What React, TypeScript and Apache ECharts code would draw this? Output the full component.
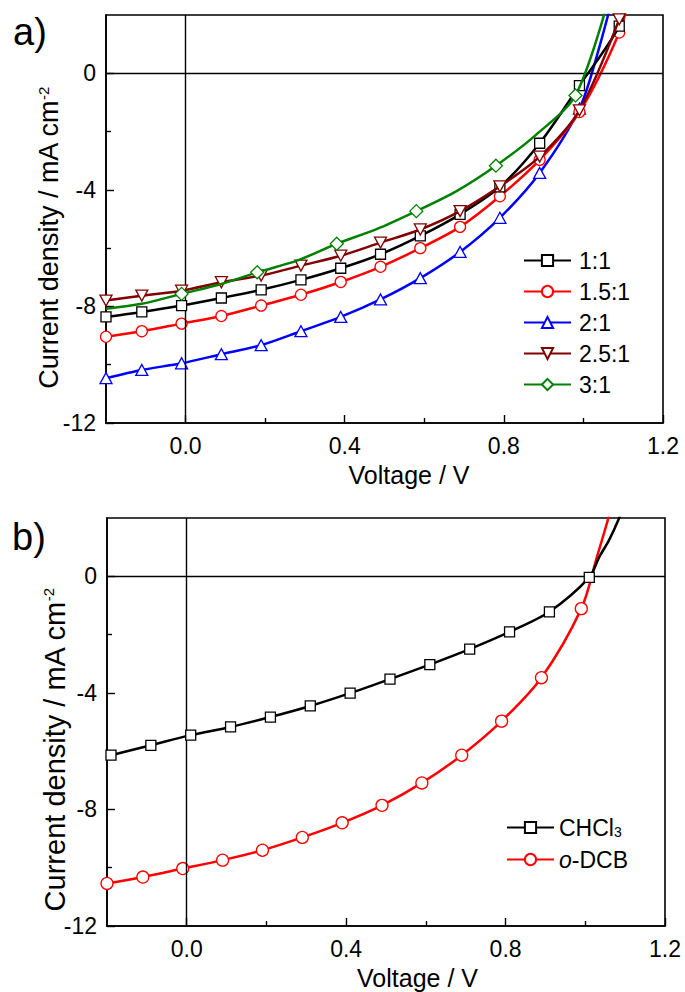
import React, { useEffect, useRef } from "react";
import * as echarts from "echarts";

const FONT = '"Liberation Sans", Arial, Helvetica, sans-serif';

// ---------- Panel a data (marker points) ----------
const aMarkX = [-0.2, -0.11, -0.01, 0.09, 0.19, 0.29, 0.39, 0.49, 0.59, 0.69, 0.79, 0.89, 0.99, 1.09];
const j11 = [-8.36, -8.19, -7.97, -7.71, -7.43, -7.09, -6.69, -6.21, -5.58, -4.84, -3.9, -2.4, -0.42, 1.62];
const j15 = [-9.04, -8.85, -8.59, -8.33, -7.97, -7.6, -7.16, -6.64, -6.0, -5.27, -4.22, -2.97, -1.33, 1.4];
const j2 = [-10.46, -10.18, -9.95, -9.64, -9.33, -8.85, -8.36, -7.76, -7.03, -6.13, -4.96, -3.42, -1.21, 3.5];
const j25 = [-7.8, -7.63, -7.46, -7.17, -6.94, -6.6, -6.26, -5.81, -5.36, -4.73, -3.88, -2.86, -1.27, 1.85];
// curve-only points (no marker) read from the curves beyond/between markers
const t11X = [1.12];
const t11Y = [3.0];
const t15X = [1.12];
const t15Y = [2.9];
const t2X = [1.04];
const t2Y = [0.9];
const t25X = [1.11];
const t25Y = [3.0];
const g3MarkX = [-0.01, 0.18, 0.38, 0.58, 0.78, 0.98];
const g3MarkY = [-7.57, -6.83, -5.85, -4.73, -3.17, -0.76];
const g3CurveX = [-0.2, -0.11, 0.09, 0.28, 0.48, 0.68, 0.88, 1.06];
const g3CurveY = [-8.08, -7.91, -7.23, -6.43, -5.35, -4.05, -2.12, 2.4];

// ---------- Panel b data ----------
const bBlackX = [-0.19, -0.09, 0.01, 0.11, 0.21, 0.31, 0.41, 0.51, 0.61, 0.71, 0.81, 0.91, 1.01];
const bBlackY = [-6.14, -5.8, -5.45, -5.17, -4.83, -4.45, -4.01, -3.53, -3.03, -2.5, -1.91, -1.22, -0.04];
const bBlackCurveX = [-0.2, 1.035, 1.06, 1.085, 1.11];
const bBlackCurveY = [-6.17, 0.66, 1.25, 2.0, 2.9];
const bRedX = [-0.2, -0.11, -0.01, 0.09, 0.19, 0.29, 0.39, 0.49, 0.59, 0.69, 0.79, 0.89, 0.99];
const bRedY = [-10.54, -10.32, -10.03, -9.74, -9.4, -8.96, -8.46, -7.86, -7.09, -6.14, -4.97, -3.48, -1.11];
const bRedCurveX = [1.03, 1.06, 1.08];
const bRedCurveY = [0.7, 2.1, 3.2];

const xMajor = [0, 0.4, 0.8, 1.2];
const xMinor = [0.2, 0.6, 1.0];
const yMajor = [-12, -8, -4, 0];
const yMinor = [-10, -6, -2];

const namesA = ["1:1", "1.5:1", "2:1", "2.5:1", "3:1"];
const namesB = ["CHCl3", "o-DCB"];
const Y_TITLE = "{n|Current density / mA cm}{s|-2}";

function build(mx: number[], my: number[], cx: number[], cy: number[]) {
  const items: any[] = [];
  mx.forEach((x, i) => items.push({ value: [x, my[i]] }));
  cx.forEach((x, i) => items.push({ value: [x, cy[i]], symbol: "none" }));
  items.sort((a, b) => a.value[0] - b.value[0]);
  return items;
}

const INV_TRI = "path://M0,0 L10,0 L5,8.66 Z";

function mkSeries(
  name: string,
  color: string,
  symbol: string,
  symbolSize: any,
  data: any[],
  gi: number,
  z: number
) {
  return {
    type: "line",
    name,
    xAxisIndex: gi * 2,
    yAxisIndex: gi * 2,
    data,
    smooth: 0.3,
    symbol,
    symbolSize,
    showAllSymbol: true,
    clip: true,
    z,
    lineStyle: { color, width: 2.5 },
    itemStyle: { color: "#fff", borderColor: color, borderWidth: 1.3 },
    emphasis: { disabled: true },
  };
}

function zeroLines() {
  return {
    silent: true,
    symbol: ["none", "none"],
    label: { show: false },
    lineStyle: { color: "#000", width: 1.4, type: "solid" },
    data: [{ yAxis: 0 }, { xAxis: 0 }],
  };
}

function axisPair(gridIndex: number, isX: boolean, nameCfg: any) {
  const major = isX ? xMajor : yMajor;
  const minor = isX ? xMinor : yMinor;
  const range = isX ? { min: -0.2, max: 1.2 } : { min: -12, max: 2 };
  const main: any = {
    type: "value",
    gridIndex,
    ...range,
    position: isX ? "bottom" : "left",
    splitLine: { show: false },
    axisLine: { show: true, onZero: false, lineStyle: { color: "#000", width: 1.6 } },
    axisTick: { show: true, inside: true, length: 8, customValues: major, lineStyle: { color: "#000", width: 1.4 } },
    axisLabel: {
      show: true,
      customValues: major,
      margin: isX ? 11 : 10,
      fontSize: 23,
      fontFamily: FONT,
      color: "#000",
      formatter: (v: number) => (isX ? v.toFixed(1) : String(v)),
    },
    ...nameCfg,
  };
  const mnr: any = {
    type: "value",
    gridIndex,
    ...range,
    position: isX ? "bottom" : "left",
    splitLine: { show: false },
    axisLine: { show: false, onZero: false },
    axisTick: { show: true, inside: true, length: 5, customValues: minor, lineStyle: { color: "#000", width: 1.4 } },
    axisLabel: { show: false },
  };
  return [main, mnr];
}

function xName(pad: number) {
  return {
    name: "Voltage / V",
    nameLocation: "middle",
    nameGap: 39,
    nameTextStyle: { fontSize: 25, fontFamily: FONT, color: "#000", padding: [0, 0, 0, pad] },
  };
}

function yTitle(x: number, y: number, fs: number) {
  return {
    type: "text",
    x,
    y,
    rotation: Math.PI / 2,
    silent: true,
    style: {
      text: Y_TITLE,
      align: "center",
      verticalAlign: "middle",
      fontSize: fs,
      fontFamily: FONT,
      fill: "#000",
      rich: {
        n: { fontSize: fs, fontFamily: FONT, fill: "#000", color: "#000" },
        s: { fontSize: 15, fontFamily: FONT, fill: "#000", color: "#000", verticalAlign: "top" },
      },
    },
  };
}

export default function App() {
  const ref = useRef<HTMLDivElement>(null);
  useEffect(() => {
    if (!ref.current) return;
    const chart = echarts.init(ref.current, undefined, { renderer: "svg" });
    const option: any = {
      animation: false,
      backgroundColor: "#fff",
      grid: [
        { left: 106, top: 15, width: 557, height: 408, show: true, borderColor: "#000", borderWidth: 1.6, containLabel: false },
        { left: 107, top: 518, width: 558, height: 408, show: true, borderColor: "#000", borderWidth: 1.6, containLabel: false },
      ],
      xAxis: [...axisPair(0, true, xName(49)), ...axisPair(1, true, xName(63))],
      yAxis: [...axisPair(0, false, {}), ...axisPair(1, false, {})],
      legend: [
        {
          orient: "vertical",
          left: 523,
          top: 249,
          padding: 0,
          itemWidth: 47,
          itemHeight: 14,
          itemGap: 8,
          selectedMode: false,
          data: namesA,
          textStyle: { fontSize: 23, fontFamily: FONT, color: "#000", padding: [0, 0, 0, 3] },
        },
        {
          orient: "vertical",
          left: 506,
          top: 816,
          padding: 0,
          itemWidth: 47,
          itemHeight: 14,
          itemGap: 9,
          selectedMode: false,
          data: namesB,
          formatter: (n: string) => (n === "CHCl3" ? "{a|CHCl}{s|3}" : "{i|o}{a|-DCB}"),
          textStyle: {
            fontSize: 23,
            fontFamily: FONT,
            color: "#000",
            rich: {
              a: { fontSize: 23, fontFamily: FONT, color: "#000" },
              i: { fontSize: 23, fontFamily: FONT, color: "#000", fontStyle: "italic" },
              s: { fontSize: 14, fontFamily: FONT, color: "#000", verticalAlign: "bottom" },
            },
          },
        },
      ],
      graphic: [
        { type: "text", left: 13, top: 13, style: { text: "a)", fontSize: 38, fontFamily: FONT, fill: "#000" } },
        { type: "text", left: 12, top: 518, style: { text: "b)", fontSize: 38, fontFamily: FONT, fill: "#000" } },
        yTitle(49, 238, 27),
        yTitle(55, 750, 29),
      ],
      series: [
        { ...mkSeries("1:1", "#000000", "rect", 10, build(aMarkX, j11, t11X, t11Y), 0, 5), markLine: zeroLines() },
        mkSeries("1.5:1", "#ff0000", "circle", 11, build(aMarkX, j15, t15X, t15Y), 0, 4),
        mkSeries("2:1", "#0000ff", "triangle", [12, 11], build(aMarkX, j2, t2X, t2Y), 0, 3),
        mkSeries("2.5:1", "#800000", INV_TRI, [12, 11], build(aMarkX, j25, t25X, t25Y), 0, 6),
        mkSeries("3:1", "#008000", "diamond", [13, 13], build(g3MarkX, g3MarkY, g3CurveX, g3CurveY), 0, 7),
        { ...mkSeries("CHCl3", "#000000", "rect", 10, build(bBlackX, bBlackY, bBlackCurveX, bBlackCurveY), 1, 5), markLine: zeroLines() },
        mkSeries("o-DCB", "#ff0000", "circle", 12, build(bRedX, bRedY, bRedCurveX, bRedCurveY), 1, 4),
      ],
    };
    chart.setOption(option);
    return () => chart.dispose();
  }, []);
  return (
    <div
      ref={ref}
      style={{ position: "absolute", left: 0, top: 0, width: 685, height: 992, background: "#fff" }}
    />
  );
}
